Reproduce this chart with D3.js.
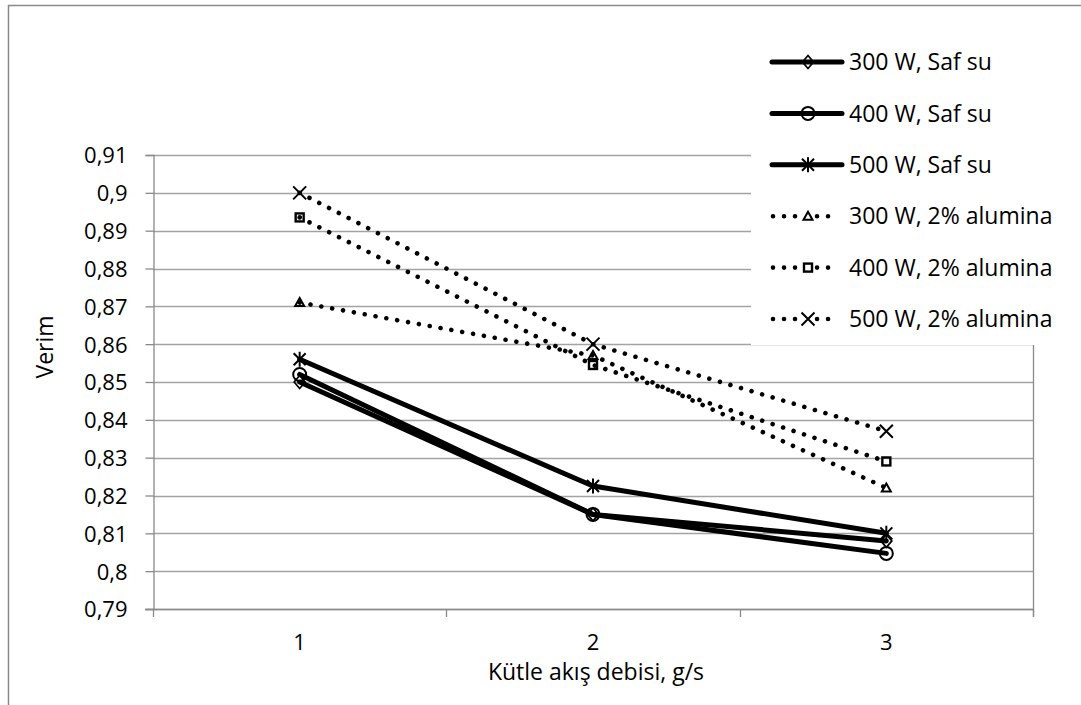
<!DOCTYPE html>
<html>
<head>
<meta charset="utf-8">
<script src="https://cdn.jsdelivr.net/npm/d3@7"></script>
<style>
  html, body { margin: 0; padding: 0; background: #fff; }
  svg { display: block; }
  text { font-family: "Open Sans", Lato, sans-serif; fill: #000; }
</style>
</head>
<body>
<svg id="chart" width="1081" height="705"></svg>
<script>
// ---- data ----
const categories = [1, 2, 3];
const yTickValues = [0.79, 0.8, 0.81, 0.82, 0.83, 0.84, 0.85, 0.86, 0.87, 0.88, 0.89, 0.9, 0.91];
const seriesNames = ["300 W, Saf su", "400 W, Saf su", "500 W, Saf su",
                     "300 W, 2% alumina", "400 W, 2% alumina", "500 W, 2% alumina"];
const s300Saf = [0.850, 0.815, 0.808];
const s400Saf = [0.852, 0.815, 0.8047];
const s500Saf = [0.856, 0.8225, 0.810];
const s300Al  = [0.871, 0.857, 0.822];
const s400Al  = [0.8935, 0.8545, 0.829];
const s500Al  = [0.900, 0.860, 0.837];
const xTitle = "Kütle akış debisi, g/s";
const yTitle = "Verim";

const seriesValues = [s300Saf, s400Saf, s500Saf, s300Al, s400Al, s500Al];
const seriesStyle = [
  { dotted: false, marker: "diamond" },
  { dotted: false, marker: "circle" },
  { dotted: false, marker: "star" },
  { dotted: true,  marker: "triangle" },
  { dotted: true,  marker: "square" },
  { dotted: true,  marker: "x" }
];

// ---- layout ----
const svg = d3.select("#chart");
const plot = { left: 153, right: 1033, top: 155, bottom: 609 };
const gridColor = "#a3a3a3";
const axisColor = "#8a8a8a";
const tickFont = 22;
const textFont = 23;

const x = d3.scaleBand().domain(categories).range([plot.left, plot.right]).padding(0);
const xc = c => x(c) + x.bandwidth() / 2;
const y = d3.scaleLinear().domain([0.79, 0.91]).range([plot.bottom, plot.top]);

// outer chart border
svg.append("rect").attr("x", 8.5).attr("y", 5.5).attr("width", 1200).attr("height", 900)
  .attr("fill", "#fff").attr("stroke", axisColor).attr("stroke-width", 1.5);

// gridlines
svg.append("g").selectAll("line").data(yTickValues).join("line")
  .attr("x1", plot.left).attr("x2", plot.right)
  .attr("y1", d => Math.round(y(d)) + 0.5).attr("y2", d => Math.round(y(d)) + 0.5)
  .attr("stroke", gridColor).attr("stroke-width", 1.3);

// right plot border
svg.append("line").attr("x1", plot.right + 0.5).attr("x2", plot.right + 0.5)
  .attr("y1", plot.top).attr("y2", plot.bottom + 8)
  .attr("stroke", axisColor).attr("stroke-width", 1.3);

// y axis
const yAxis = d3.axisLeft(y).tickValues(yTickValues).tickSize(8).tickPadding(18)
  .tickFormat(d => d3.format(".2~f")(d).replace(".", ","));
const gy = svg.append("g").attr("transform", `translate(${plot.left + 0.5},0)`).call(yAxis);
gy.select(".domain").attr("stroke", axisColor).attr("stroke-width", 1.3);
gy.selectAll(".tick line").attr("stroke", axisColor).attr("stroke-width", 1.3);
gy.selectAll(".tick text").attr("font-size", tickFont).attr("font-family", null).attr("dy", "0.36em");

// x axis (ticks between categories)
const xAxis = d3.axisBottom(x).tickSize(0).tickPadding(0).tickFormat(d => String(d));
const gx = svg.append("g").attr("transform", `translate(0,${plot.bottom + 0.5})`).call(xAxis);
gx.select(".domain").remove();
gx.selectAll(".tick text").attr("font-size", tickFont).attr("font-family", null)
  .attr("y", 40).attr("dy", null);
svg.append("line").attr("x1", plot.left - 8).attr("x2", plot.right)
  .attr("y1", plot.bottom + 0.5).attr("y2", plot.bottom + 0.5)
  .attr("stroke", axisColor).attr("stroke-width", 1.5);
const bounds = categories.map(c => x(c)).concat([plot.right]);
svg.append("g").selectAll("line").data(bounds).join("line")
  .attr("x1", d => Math.round(d) + 0.5).attr("x2", d => Math.round(d) + 0.5)
  .attr("y1", plot.bottom).attr("y2", plot.bottom + 8)
  .attr("stroke", axisColor).attr("stroke-width", 1.3);

// axis titles
svg.append("text").attr("x", (plot.left + plot.right) / 2 + 3).attr("y", 680)
  .attr("text-anchor", "middle").attr("font-size", textFont).text(xTitle);
svg.append("text").attr("transform", "translate(53,347) rotate(-90)")
  .attr("text-anchor", "middle").attr("font-size", textFont).text(yTitle);

// markers
function drawMarker(g, type, cx, cy) {
  const m = g.append("g").attr("transform", `translate(${cx},${cy})`);
  if (type === "diamond") {
    m.append("path").attr("d", "M0,-6.5L5.5,0L0,6.5L-5.5,0Z").attr("stroke", "#000").attr("fill", "none").attr("stroke-width", 1.7);
  } else if (type === "circle") {
    m.append("circle").attr("r", 6.5).attr("stroke", "#000").attr("fill", "none").attr("stroke-width", 2);
  } else if (type === "star") {
    m.append("path").attr("d", "M-6,-6L6,6M6,-6L-6,6M0,-7.5L0,7.5").attr("stroke", "#000").attr("stroke-width", 2);
  } else if (type === "x") {
    m.append("path").attr("d", "M-6.5,-6.5L6.5,6.5M6.5,-6.5L-6.5,6.5").attr("stroke", "#000").attr("stroke-width", 2);
  } else if (type === "triangle") {
    m.append("path").attr("d", "M0,-4.5L4.5,3.5L-4.5,3.5Z").attr("stroke", "#000").attr("fill", "none").attr("stroke-width", 2);
  } else if (type === "square") {
    m.append("rect").attr("x", -4).attr("y", -4).attr("width", 8).attr("height", 8)
      .attr("stroke", "#000").attr("fill", "none").attr("stroke-width", 2.4);
  }
}

const line = d3.line().x((d, i) => xc(categories[i])).y(d => y(d));
function styleLine(sel, dotted) {
  sel.attr("fill", "none").attr("stroke", "#000").attr("stroke-linecap", "round").attr("stroke-linejoin", "round");
  if (dotted) sel.attr("stroke-width", 4.6).attr("stroke-dasharray", "0.01 11");
  else sel.attr("stroke-width", 5);
}

const gSeries = svg.append("g");
seriesValues.forEach((vals, si) => {
  const g = gSeries.append("g");
  styleLine(g.append("path").attr("d", line(vals)), seriesStyle[si].dotted);
  vals.forEach((v, i) => drawMarker(g, seriesStyle[si].marker, xc(categories[i]), y(v)));
});

// legend
const lg = svg.append("g");
lg.append("rect").attr("x", 751).attr("y", 28).attr("width", 324).attr("height", 317).attr("fill", "#fff");
const legY0 = 62, legStep = 51.4;
seriesNames.forEach((name, si) => {
  const ly = legY0 + si * legStep;
  const s = seriesStyle[si];
  styleLine(lg.append("line").attr("x1", s.dotted ? 773 : 772).attr("x2", s.dotted ? 834 : 842)
    .attr("y1", ly).attr("y2", ly), s.dotted);
  if (s.dotted) {
    lg.append("rect").attr("x", 801).attr("y", ly - 6).attr("width", 13).attr("height", 12).attr("fill", "#fff");
  }
  drawMarker(lg, s.marker, 808, ly);
  lg.append("text").attr("x", 849).attr("y", ly).attr("dy", "0.36em")
    .attr("font-size", textFont).text(name);
});
</script>
</body>
</html>
